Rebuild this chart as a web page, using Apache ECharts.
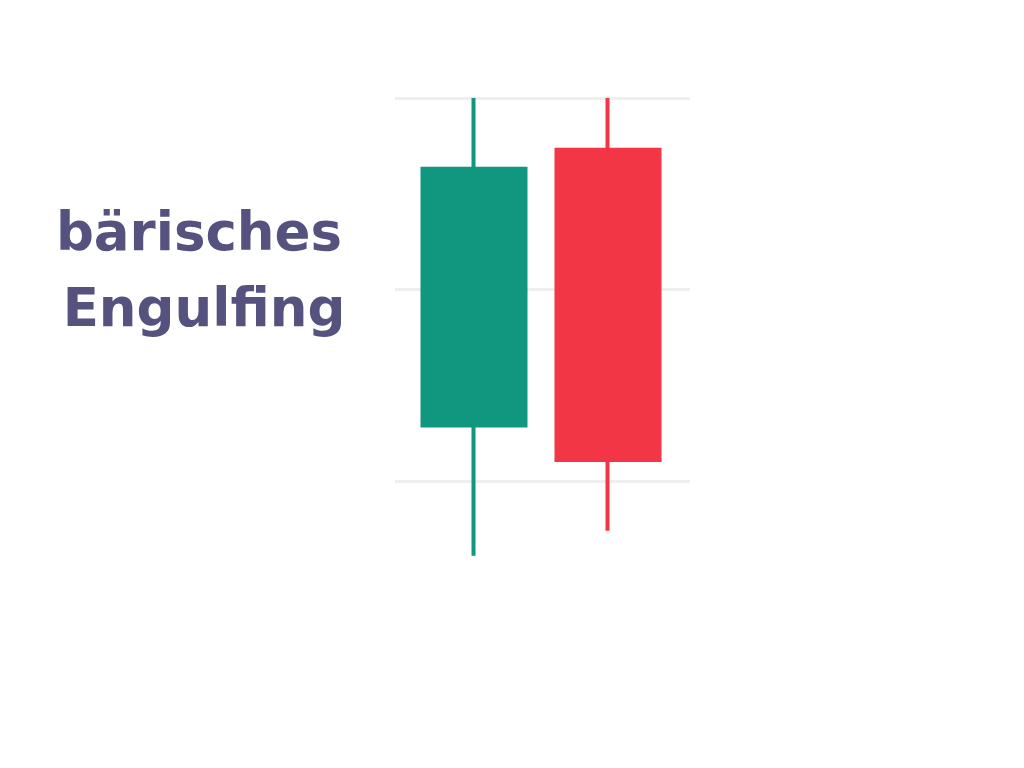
<!DOCTYPE html>
<html>
<head>
<meta charset="utf-8">
<script src="https://cdn.jsdelivr.net/npm/echarts@6/dist/echarts.min.js"></script>
<style>
html,body{margin:0;padding:0;background:#fff;}
#chart{width:1024px;height:768px;}
</style>
</head>
<body>
<div id="chart"></div>
<script>
var categories = ['1', '2'];
var openValues = [12.9, 27.3];
var closeValues = [26.3, 11.1];
var lowValues = [6.1, 7.4];
var highValues = [30.0, 30.0];
var titleLines = ['bärisches', 'Engulfing'];
var yMin = 0, yMax = 30, yInterval = 10;

var candleData = categories.map(function (c, i) {
  return [openValues[i], closeValues[i], lowValues[i], highValues[i]];
});

var chart = echarts.init(document.getElementById('chart'));
chart.setOption({
  animation: false,
  backgroundColor: '#ffffff',
  grid: [
    { left: 407, width: 268, top: 98, height: 574.5 },
    { left: 395, width: 295, top: 98, height: 574.5 }
  ],
  xAxis: [
    { type: 'category', gridIndex: 0, data: categories, show: false },
    { type: 'category', gridIndex: 1, data: categories, show: false }
  ],
  yAxis: [
    { type: 'value', gridIndex: 0, min: yMin, max: yMax, interval: yInterval, show: false, splitLine: { show: false } },
    { type: 'value', gridIndex: 1, min: yMin, max: yMax, interval: yInterval,
      axisLine: { show: false }, axisTick: { show: false }, axisLabel: { show: false },
      splitLine: { show: true, showMinLine: false, lineStyle: { color: '#efefef', width: 3 } } }
  ],
  series: [{
    type: 'candlestick',
    xAxisIndex: 0,
    yAxisIndex: 0,
    data: candleData,
    barWidth: 103,
    z: 5,
    itemStyle: {
      color: '#11977f',
      color0: '#f23645',
      borderColor: '#11977f',
      borderColor0: '#f23645',
      borderWidth: 4
    }
  }],
  graphic: [
    { type: 'text', x: 199, y: 236, style: { text: titleLines[0], fill: '#55527f', font: 'bold 53px "DejaVu Sans"', textAlign: 'center', textVerticalAlign: 'middle' } },
    { type: 'text', x: 204, y: 312, style: { text: titleLines[1], fill: '#55527f', font: 'bold 53px "DejaVu Sans"', textAlign: 'center', textVerticalAlign: 'middle' } }
  ]
});
</script>
</body>
</html>
